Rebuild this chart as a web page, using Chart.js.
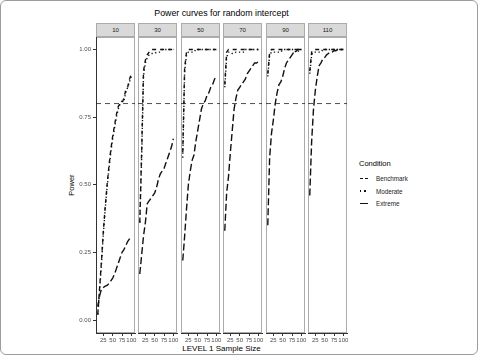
<!DOCTYPE html>
<html>
<head>
<meta charset="utf-8">
<script src="https://cdn.jsdelivr.net/npm/chart.js@4.4.1/dist/chart.umd.min.js"></script>
<style>
  body { margin: 0; width: 478px; height: 355px; position: relative; background: #fff; overflow: hidden;
         font-family: "Liberation Sans", Arial, sans-serif; color: #000; }
  #frame { position: absolute; left: 0; top: 0; width: 476px; height: 353px; border: 1px solid #9c9c9c; border-radius: 6px; }
  canvas { position: absolute; }
  .strip { position: absolute; top: 23px; height: 14px; box-sizing: border-box; background: #d9d9d9;
           border: 1px solid #ababab; font-size: 6px; line-height: 12px; text-align: center; color: #1a1a1a; }
  .txt { position: absolute; white-space: nowrap; }
  .key { position: absolute; height: 1.5px; }
</style>
</head>
<body>
<div id="frame"></div>
<div class="txt" style="left:96px;width:251px;top:8px;text-align:center;font-size:8.8px;line-height:11px">Power curves for random intercept</div>
<div class="txt" style="left:96px;width:251px;top:344px;text-align:center;font-size:8px;line-height:10px">LEVEL 1 Sample Size</div>
<div class="txt" style="left:52px;width:40px;top:180px;text-align:center;font-size:7.5px;line-height:10px;transform:rotate(-90deg)">Power</div>
<div id="legend">
  <div class="txt" style="left:359px;top:159px;font-size:7.5px;line-height:10px">Condition</div>
  <div class="key" style="left:360px;top:177.5px;width:8px;background:repeating-linear-gradient(90deg,#111 0 3px,transparent 3px 5px)"></div>
  <div class="txt" style="left:376px;top:174px;font-size:6.3px;line-height:9px;color:#1a1a1a">Benchmark</div>
  <div class="key" style="left:360px;top:190.2px;width:8px;background:repeating-linear-gradient(90deg,#111 0 1.5px,transparent 1.5px 4.5px)"></div>
  <div class="txt" style="left:376px;top:186.5px;font-size:6.3px;line-height:9px;color:#1a1a1a">Moderate</div>
  <div class="key" style="left:360px;top:202.5px;width:8px;background:#111"></div>
  <div class="txt" style="left:376px;top:199px;font-size:6.3px;line-height:9px;color:#1a1a1a">Extreme</div>
</div>
<script>
// level 1 sample sizes on the x axis
const sampleSizes = [10, 15, 20, 25, 30, 35, 40, 45, 50, 55, 60, 65, 70, 75, 80, 85, 90, 95, 100];
// level 2 sample size of each facet
const level2Sizes = ["10", "30", "50", "70", "90", "110"];

const benchmark10 = [0.02, 0.12, 0.22, 0.33, 0.42, 0.50, 0.57, 0.63, 0.68, 0.72, 0.76, 0.79, 0.80, 0.80, 0.82, 0.85, 0.86, 0.89, 0.91];
const moderate10  = [0.02, 0.11, 0.21, 0.32, 0.41, 0.49, 0.56, 0.62, 0.67, 0.71, 0.75, 0.78, 0.80, 0.81, 0.81, 0.84, 0.86, 0.88, 0.90];
const extreme10   = [0.05, 0.09, 0.115, 0.12, 0.125, 0.128, 0.135, 0.145, 0.155, 0.17, 0.19, 0.21, 0.23, 0.25, 0.26, 0.275, 0.29, 0.30, 0.31];

const benchmark30 = [0.36, 0.62, 0.92, 0.96, 0.98, 0.99, 1, 1, 1, 1, 1, 1, 1, 1, 1, 1, 1, 1, 1];
const moderate30  = [0.36, 0.60, 0.90, 0.95, 0.97, 0.98, 0.985, 0.985, 0.985, 0.99, 0.99, 0.99, 1, 1, 1, 1, 1, 1, 1];
const extreme30   = [0.17, 0.24, 0.31, 0.36, 0.43, 0.44, 0.45, 0.46, 0.47, 0.49, 0.52, 0.54, 0.55, 0.56, 0.58, 0.60, 0.62, 0.64, 0.67];

const benchmark50 = [0.62, 0.93, 0.99, 1, 1, 1, 1, 1, 1, 1, 1, 1, 1, 1, 1, 1, 1, 1, 1];
const moderate50  = [0.60, 0.92, 0.98, 0.99, 0.99, 0.99, 0.99, 1, 1, 1, 1, 1, 1, 1, 1, 1, 1, 1, 1];
const extreme50   = [0.22, 0.31, 0.41, 0.50, 0.55, 0.59, 0.61, 0.66, 0.70, 0.74, 0.78, 0.80, 0.81, 0.83, 0.84, 0.86, 0.87, 0.89, 0.90];

const benchmark70 = [0.87, 0.99, 1, 1, 1, 1, 1, 1, 1, 1, 1, 1, 1, 1, 1, 1, 1, 1, 1];
const moderate70  = [0.86, 0.97, 0.99, 0.99, 0.985, 0.985, 0.99, 0.99, 0.99, 0.99, 0.99, 1, 1, 1, 1, 1, 1, 1, 1];
const extreme70   = [0.33, 0.47, 0.53, 0.62, 0.70, 0.78, 0.82, 0.85, 0.86, 0.87, 0.88, 0.89, 0.91, 0.92, 0.93, 0.94, 0.95, 0.95, 0.955];

const benchmark90 = [0.91, 0.99, 1, 1, 1, 1, 1, 1, 1, 1, 1, 1, 1, 1, 1, 1, 1, 1, 1];
const moderate90  = [0.90, 0.98, 0.99, 0.99, 0.99, 0.99, 0.99, 0.99, 1, 1, 1, 1, 1, 1, 1, 0.99, 0.99, 1, 1];
const extreme90   = [0.35, 0.60, 0.69, 0.74, 0.80, 0.84, 0.87, 0.88, 0.90, 0.93, 0.95, 0.96, 0.97, 0.98, 0.99, 0.99, 1, 1, 1];

const benchmark110 = [0.92, 0.99, 1, 1, 1, 1, 1, 1, 1, 1, 1, 1, 1, 1, 1, 1, 1, 1, 1];
const moderate110  = [0.91, 0.98, 0.99, 0.99, 0.99, 0.99, 0.99, 1, 1, 1, 1, 1, 1, 1, 1, 1, 1, 1, 1];
const extreme110   = [0.46, 0.66, 0.78, 0.85, 0.90, 0.94, 0.95, 0.965, 0.97, 0.98, 0.985, 0.99, 0.99, 0.995, 0.995, 1, 1, 1, 1];

const powerTarget = 0.8;
const xTicks = [25, 50, 75, 100];
const yTicks = [0, 0.25, 0.5, 0.75, 1];

const panels = [
  [benchmark10, moderate10, extreme10],
  [benchmark30, moderate30, extreme30],
  [benchmark50, moderate50, extreme50],
  [benchmark70, moderate70, extreme70],
  [benchmark90, moderate90, extreme90],
  [benchmark110, moderate110, extreme110],
];

// facet geometry (px)
const panelLefts = [96, 138, 181, 223, 266, 308];
const panelW = 39, panelTop = 37, panelH = 296;
const pad = 6, yAxisW = 36, xAxisH = 18;
const font = "'Liberation Sans', Arial, sans-serif";

const panelFrame = {
  id: "panelFrame",
  beforeDraw(chart) {
    const { ctx, chartArea: a } = chart;
    ctx.save();
    ctx.strokeStyle = "#ababab";
    ctx.lineWidth = 1;
    ctx.strokeRect(a.left + 0.5, a.top + 0.5, a.right - a.left - 1, a.bottom - a.top - 1);
    ctx.restore();
  },
  beforeDatasetsDraw(chart) {
    const { ctx, chartArea: a } = chart;
    const y = chart.scales.y.getPixelForValue(powerTarget);
    ctx.save();
    ctx.strokeStyle = "#222";
    ctx.lineWidth = 0.8;
    ctx.setLineDash([5, 4]);
    ctx.beginPath();
    ctx.moveTo(a.left, y);
    ctx.lineTo(a.right, y);
    ctx.stroke();
    ctx.restore();
  },
};

const toPoints = (arr) => sampleSizes.map((x, i) => ({ x: x, y: arr[i] }));

panels.forEach((series, i) => {
  const first = i === 0;
  const strip = document.createElement("div");
  strip.className = "strip";
  strip.style.left = panelLefts[i] + "px";
  strip.style.width = panelW + "px";
  strip.textContent = level2Sizes[i];
  document.body.appendChild(strip);

  const canvas = document.createElement("canvas");
  const w = panelW + 2 * pad + (first ? yAxisW : 0);
  canvas.width = w;
  canvas.height = panelH + xAxisH;
  canvas.style.left = panelLefts[i] - pad - (first ? yAxisW : 0) + "px";
  canvas.style.top = panelTop + "px";
  document.body.appendChild(canvas);

  new Chart(canvas, {
    type: "line",
    data: {
      datasets: [
        { label: "Extreme", data: toPoints(series[2]), borderDash: [7, 3] },
        { label: "Moderate", data: toPoints(series[1]), borderDash: [1.3, 2.6] },
        { label: "Benchmark", data: toPoints(series[0]), borderDash: [4, 4] },
      ],
    },
    options: {
      responsive: false,
      animation: false,
      events: [],
      layout: { padding: { left: pad, right: pad, top: 0, bottom: 0 } },
      plugins: { legend: { display: false }, tooltip: { enabled: false } },
      elements: {
        point: { radius: 0 },
        line: { tension: 0, borderColor: "#111", borderWidth: 1.4, fill: false },
      },
      scales: {
        x: {
          type: "linear",
          min: 5.25,
          max: 109.75,
          afterBuildTicks: (s) => { s.ticks = xTicks.map((v) => ({ value: v })); },
          afterFit: (s) => { s.height = xAxisH; s.paddingLeft = 0; s.paddingRight = 0; },
          grid: { drawOnChartArea: false, drawTicks: true, tickLength: 3, color: "#333" },
          border: { display: true, color: "#333", width: 1 },
          ticks: { font: { size: 6, family: font }, color: "#4d4d4d", padding: 1, maxRotation: 0, autoSkip: false,
                   callback: (v) => String(v) },
        },
        y: {
          display: first,
          min: -0.048,
          max: 1.046,
          afterBuildTicks: (s) => { s.ticks = yTicks.map((v) => ({ value: v })); },
          afterFit: (s) => { s.width = first ? yAxisW : 0; s.paddingTop = 0; s.paddingBottom = 0; },
          grid: { drawOnChartArea: false, drawTicks: true, tickLength: 3, color: "#333" },
          border: { display: true, color: "#333", width: 1 },
          ticks: { font: { size: 6, family: font }, color: "#4d4d4d", padding: 2, autoSkip: false,
                   callback: (v) => v.toFixed(2) },
        },
      },
    },
    plugins: [panelFrame],
  });
});
</script>
</body>
</html>
